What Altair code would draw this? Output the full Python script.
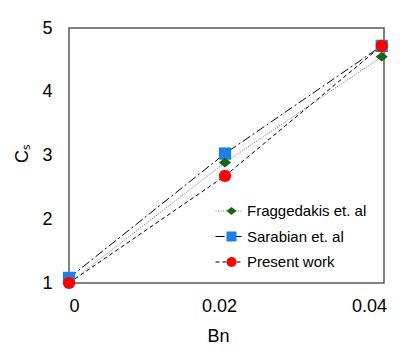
import altair as alt
import pandas as pd

# ---- data ----
bn = [0.0, 0.0208, 0.0417]
fraggedakis = [1.0, 2.89, 4.55]
sarabian = [1.08, 3.03, 4.72]
present = [1.0, 2.68, 4.72]
names = ["Fraggedakis et. al", "Sarabian et. al", "Present work"]
draw_order = ["Sarabian et. al", "Fraggedakis et. al", "Present work"]
x_ticks = [0, 0.02, 0.04]
y_ticks = [1, 2, 3, 4, 5]

rows = []
for nm, vals in zip(names, [fraggedakis, sarabian, present]):
    for b, v in zip(bn, vals):
        rows.append({"series": nm, "name": nm, "bn": b, "cs": v, "k": draw_order.index(nm)})
df = pd.DataFrame(rows).sort_values("k", kind="stable").reset_index(drop=True)

FONT = "Liberation Sans"

x_enc = alt.X(
    "bn:Q",
    scale=alt.Scale(domain=[0, 0.042], nice=False, zero=False),
    axis=alt.Axis(values=x_ticks, format=".2~f", title="Bn", labelPadding=14,
                  titleX=149, titleY=58, titleAlign="center", titleBaseline="alphabetic"),
)
y_enc = alt.Y(
    "cs:Q",
    scale=alt.Scale(domain=[1, 5], nice=False, zero=False),
    axis=alt.Axis(values=y_ticks, format="d", title="Cₛ", labelPadding=17,
                  titleX=-42, titleY=125, titleAngle=270, titleAlign="center",
                  titleBaseline="alphabetic"),
)

common_leg = dict(title=None, orient="none", legendX=146, legendY=175, padding=0,
                  clipHeight=16, rowPadding=9.5, labelFont=FONT, labelFontSize=15,
                  labelColor="#000000")

leg_lines = alt.Legend(symbolType="stroke", symbolSize=729, symbolStrokeWidth=1,
                       labelOffset=4, **common_leg)
leg_marks = alt.Legend(symbolSize=100, symbolStrokeWidth=0, symbolOffset=9,
                       labelExpr="''", **common_leg)

lines = alt.Chart(df).mark_line(strokeWidth=1).encode(
    x=x_enc,
    y=y_enc,
    detail="series:N",
    color=alt.Color("series:N", scale=alt.Scale(domain=names, range=["#6a6a6a", "#000000", "#000000"]),
                    legend=leg_lines),
    strokeDash=alt.StrokeDash("series:N", scale=alt.Scale(domain=names, range=[[1, 1.5], [9, 3, 2, 3], [4, 3]]),
                              legend=leg_lines),
)

points = alt.Chart(df).mark_point(filled=True, opacity=1, size=150).encode(
    x=x_enc,
    y=y_enc,
    color=alt.Color("name:N", scale=alt.Scale(domain=names, range=["#176617", "#1f7fe8", "#ff0000"]),
                    legend=leg_marks),
    shape=alt.Shape("name:N", scale=alt.Scale(domain=names, range=["M-1,0L0,-0.8L1,0L0,0.8Z", "square", "circle"]),
                    legend=leg_marks),
)

chart = alt.layer(lines, points).resolve_scale(
    color="independent", shape="independent", strokeDash="independent"
).properties(
    width=315, height=255,
    autosize=alt.AutoSizeParams(type="none"),
    padding={"left": 61, "top": 20, "right": 20, "bottom": 70},
).configure_view(
    stroke="#595959", strokeWidth=1.5
).configure_axis(
    domain=False, ticks=False, tickSize=0, grid=False,
    labelFont=FONT, labelFontSize=18, labelColor="#000000",
    titleFont=FONT, titleFontSize=18, titleFontWeight="normal", titleColor="#000000",
)

chart.save("out.html", embed_options={"renderer": "svg", "actions": False})
